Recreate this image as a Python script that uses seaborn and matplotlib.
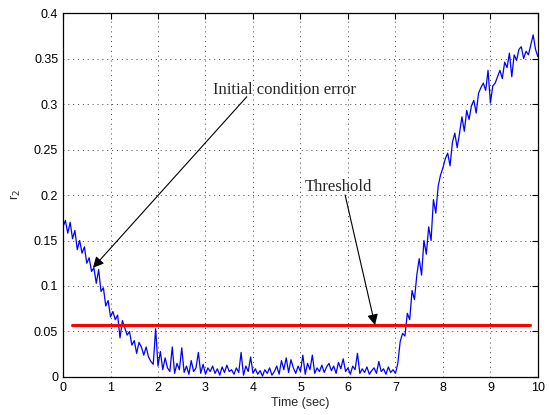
import matplotlib
matplotlib.use("Agg")
import matplotlib.pyplot as plt
import seaborn as sns
import numpy as np
import pandas as pd

# residual r2, one value every 0.05 s
r2_0_1 = [0.165, 0.172, 0.158, 0.170, 0.152, 0.161, 0.140, 0.150, 0.136, 0.143,
          0.125, 0.131, 0.116, 0.120, 0.103, 0.118, 0.094, 0.098, 0.078, 0.084]
r2_1_2 = [0.066, 0.072, 0.063, 0.068, 0.043, 0.062, 0.054, 0.046, 0.050, 0.035,
          0.040, 0.026, 0.038, 0.033, 0.024, 0.033, 0.022, 0.017, 0.014, 0.053]
r2_2_3 = [0.012, 0.028, 0.008, 0.021, 0.010, 0.006, 0.033, 0.004, 0.015, 0.008,
          0.032, 0.005, 0.012, 0.003, 0.018, 0.006, 0.010, 0.027, 0.004, 0.014]
r2_3_4 = [0.003, 0.010, 0.006, 0.012, 0.004, 0.009, 0.002, 0.011, 0.005, 0.013,
          0.006, 0.008, 0.003, 0.010, 0.005, 0.027, 0.002, 0.012, 0.006, 0.022]
r2_4_5 = [0.004, 0.009, 0.003, 0.007, 0.001, 0.008, 0.004, 0.010, 0.002, 0.006,
          0.012, 0.003, 0.018, 0.008, 0.021, 0.005, 0.019, 0.010, 0.004, 0.012]
r2_5_6 = [0.006, 0.024, 0.003, 0.015, 0.008, 0.024, 0.004, 0.010, 0.006, 0.013,
          0.005, 0.011, 0.015, 0.007, 0.012, 0.004, 0.016, 0.009, 0.020, 0.006]
r2_6_7 = [0.010, 0.003, 0.012, 0.008, 0.026, 0.004, 0.009, 0.005, 0.011, 0.003,
          0.007, 0.010, 0.004, 0.017, 0.006, 0.009, 0.003, 0.011, 0.005, 0.008]
r2_7_8 = [0.004, 0.015, 0.039, 0.048, 0.045, 0.070, 0.063, 0.095, 0.085, 0.112,
          0.130, 0.112, 0.150, 0.135, 0.165, 0.150, 0.195, 0.180, 0.210, 0.222]
r2_8_9 = [0.230, 0.240, 0.246, 0.232, 0.258, 0.268, 0.252, 0.268, 0.286, 0.270,
          0.293, 0.283, 0.298, 0.304, 0.290, 0.312, 0.318, 0.323, 0.315, 0.337]
r2_9_10 = [0.301, 0.320, 0.323, 0.330, 0.337, 0.328, 0.346, 0.340, 0.356, 0.330,
           0.354, 0.348, 0.360, 0.363, 0.350, 0.358, 0.354, 0.365, 0.376, 0.360, 0.352]

r2 = (r2_0_1 + r2_1_2 + r2_2_3 + r2_3_4 + r2_4_5 + r2_5_6 + r2_6_7
      + r2_7_8 + r2_8_9 + r2_9_10)
time = [round(0.05 * i, 2) for i in range(len(r2))]

threshold_t = [0.19, 9.83]
threshold_val = [0.057, 0.057]

xticks = list(range(0, 11))
yticks = [0, 0.05, 0.1, 0.15, 0.2, 0.25, 0.3, 0.35, 0.4]

df = pd.DataFrame({"Time": time, "r2": r2})
thr = pd.DataFrame({"Time": threshold_t, "r2": threshold_val})

sns.set_style("white")
plt.rcParams["font.family"] = ["Liberation Sans", "DejaVu Sans"]

fig = plt.figure(figsize=(5.49, 4.15), dpi=100)
ax = fig.add_axes([0.1148, 0.0916, 0.865, 0.877])

sns.lineplot(data=df, x="Time", y="r2", color="#0000ff", linewidth=0.9, ax=ax)
sns.lineplot(data=thr, x="Time", y="r2", color="#ff0000", linewidth=2.2, ax=ax)

ax.set_xlim(0, 10)
ax.set_ylim(0, 0.4)
ax.set_xticks(xticks)
ax.set_yticks(yticks)
ax.set_yticklabels(["0", "0.05", "0.1", "0.15", "0.2", "0.25", "0.3", "0.35", "0.4"])
ax.grid(True, linestyle=(0, (1, 4)), color="0.25", linewidth=0.7)
ax.tick_params(direction="in", top=True, right=True, length=4, labelsize=9, colors="k")
for s in ax.spines.values():
    s.set_color("k")
    s.set_linewidth(0.9)

ax.set_xlabel("Time (sec)", fontsize=9, labelpad=2)
ax.set_ylabel(r"r$_2$", fontsize=9, labelpad=8)

# annotations
arrow = dict(arrowstyle="-|>", color="k", lw=0.8, mutation_scale=16,
             shrinkA=0, shrinkB=0)
ax.annotate("", xy=(0.63, 0.12), xytext=(3.87, 0.308), arrowprops=arrow)
ax.annotate("", xy=(6.57, 0.057), xytext=(5.94, 0.2), arrowprops=arrow)
ax.text(3.16, 0.315, "Initial condition error", family="Liberation Serif",
        fontsize=12, va="center", ha="left")
ax.text(5.09, 0.209, "Threshold", family="Liberation Serif",
        fontsize=12, va="center", ha="left")

fig.savefig("out.png", dpi=100)
